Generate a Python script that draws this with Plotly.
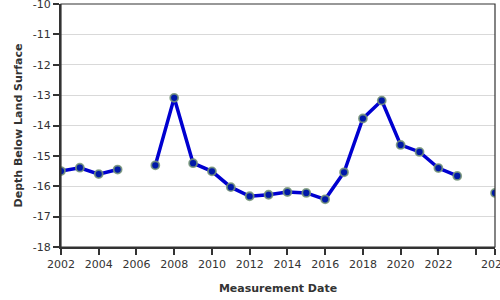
import plotly.graph_objects as go

dates = ["2002-01-01", "2003-01-01", "2004-01-01", "2005-01-01", "2006-01-01",
         "2007-01-01", "2008-01-01", "2009-01-01", "2010-01-01", "2011-01-01",
         "2012-01-01", "2013-01-01", "2014-01-01", "2015-01-01", "2016-01-01",
         "2017-01-01", "2018-01-01", "2019-01-01", "2020-01-01", "2021-01-01",
         "2022-01-01", "2023-01-01", "2024-01-01", "2025-01-01"]
depth = [-15.50, -15.39, -15.60, -15.45, None,
         -15.31, -13.09, -15.24, -15.51, -16.03,
         -16.33, -16.28, -16.19, -16.22, -16.43,
         -15.54, -13.77, -13.18, -14.64, -14.87,
         -15.40, -15.66, None, -16.22]

x_tick_vals = ["2002-01-01", "2004-01-01", "2006-01-01", "2008-01-01", "2010-01-01",
               "2012-01-01", "2014-01-01", "2016-01-01", "2018-01-01", "2020-01-01",
               "2022-01-01", "2024-01-01", "2025-01-01"]
x_tick_text = ["2002", "2004", "2006", "2008", "2010", "2012", "2014", "2016",
               "2018", "2020", "2022", "", "2025"]
y_tick_vals = [-18, -17, -16, -15, -14, -13, -12, -11, -10]
y_tick_text = ["-18", "-17", "-16", "-15", "-14", "-13", "-12", "-11", "-10"]

fig = go.Figure()
fig.add_trace(go.Scatter(
    x=dates, y=depth, mode="lines+markers", connectgaps=False,
    line=dict(color="#0000d0", width=3.5),
    marker=dict(size=8, color="#0018a8",
                line=dict(color="rgba(120,150,120,0.85)", width=1.8)),
))

fig.update_layout(
    width=500, height=300,
    margin=dict(l=61, r=5, t=4, b=53),
    paper_bgcolor="white", plot_bgcolor="white",
    showlegend=False,
    font=dict(family="DejaVu Sans", size=11, color="#333"),
    xaxis=dict(
        range=["2002-01-01", "2025-01-01"],
        tickvals=x_tick_vals, ticktext=x_tick_text,
        ticks="outside", ticklen=6, tickwidth=1.5, tickcolor="#333",
        ticklabeloverflow="allow", automargin=False,
        showgrid=False, zeroline=False,
        showline=True, linecolor="#333", linewidth=2,
        title=dict(text="<b>Measurement Date</b>", font=dict(size=11, color="#333"), standoff=14),
        tickfont=dict(size=11, color="#333"),
    ),
    yaxis=dict(
        range=[-18, -10],
        tickvals=y_tick_vals, ticktext=y_tick_text,
        ticks="outside", ticklen=6, tickwidth=1.5, tickcolor="#333",
        ticklabeloverflow="allow", automargin=False,
        showgrid=True, gridcolor="#d9d9d9", gridwidth=1, zeroline=False,
        showline=True, linecolor="#333", linewidth=2,
        title=dict(text="<b>Depth Below Land Surface</b>", font=dict(size=11, color="#333"), standoff=8),
        tickfont=dict(size=11, color="#333"),
    ),
    shapes=[dict(type="rect", xref="paper", yref="paper", x0=0, x1=1, y0=0, y1=1,
                 line=dict(color="#333", width=1.2), layer="above")],
)

fig.write_html("out.html")
